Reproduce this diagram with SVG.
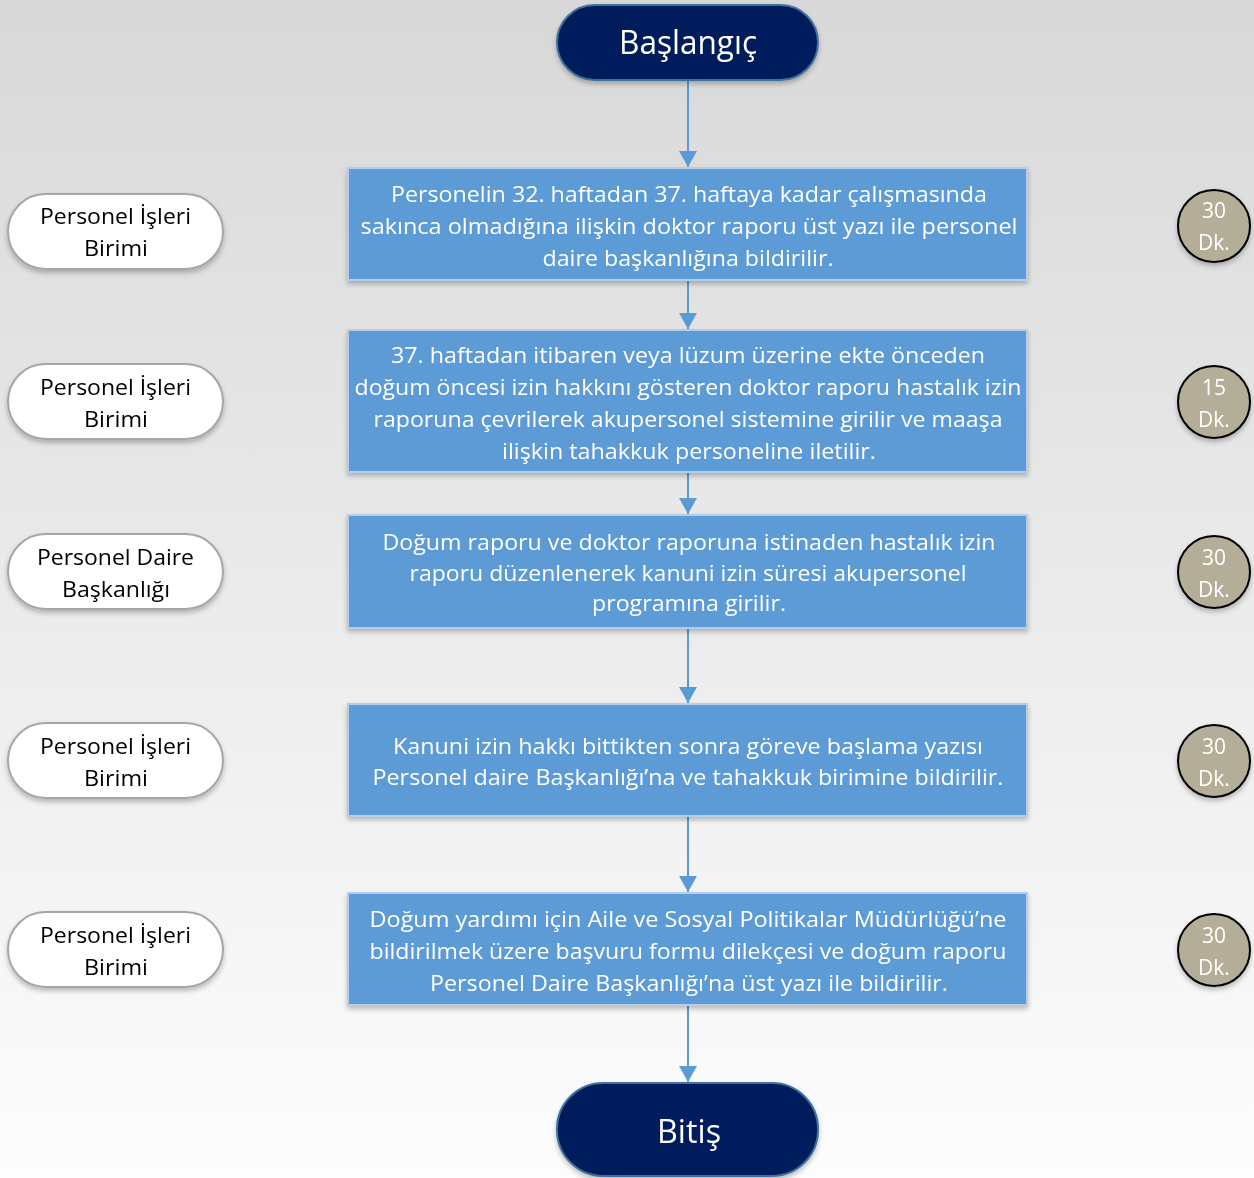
<svg xmlns="http://www.w3.org/2000/svg" width="1254" height="1178" viewBox="0 0 1254 1178">
<defs>
<linearGradient id="bg" x1="0" y1="0" x2="0" y2="1">
<stop offset="0" stop-color="#d8d8d8"/>
<stop offset="1" stop-color="#fdfdfd"/>
</linearGradient>
<filter id="sh" x="-10%" y="-10%" width="120%" height="130%">
<feDropShadow dx="0" dy="3" stdDeviation="2.5" flood-color="#000" flood-opacity="0.25"/>
</filter>
<marker id="ah" markerWidth="16" markerHeight="18" viewBox="0 0 16 18" refX="16" refY="9" orient="auto" markerUnits="userSpaceOnUse">
<path d="M0 0 L16 9 L0 18 Z" fill="#5b9bd5"/>
</marker>
<style>
.term{fill:#001f5c;stroke:#41719c;stroke-width:2}
.tt{fill:#fff;font-family:"Open Sans","Liberation Sans",sans-serif;font-size:32px;text-anchor:middle}
.box{fill:#5b9bd5;stroke:#b4cde8;stroke-width:2}
.bt{fill:#fff;font-family:"Open Sans","Liberation Sans",sans-serif;font-size:21px;text-anchor:middle}
.who{fill:#fff;stroke:#a6a6a6;stroke-width:2}
.wt{fill:#000;font-family:"Open Sans","Liberation Sans",sans-serif;font-size:21px;text-anchor:middle}
.tm{fill:#b4ae98;stroke:#000;stroke-width:2}
.ct{fill:#fff;font-family:"Open Sans","Liberation Sans",sans-serif;font-size:21px;text-anchor:middle}
.cn{stroke:#5b9bd5;stroke-width:2;fill:none;marker-end:url(#ah)}
</style>
</defs>
<rect width="1254" height="1178" fill="url(#bg)"/>

<g id="connectors">
<line class="cn" x1="688" y1="81" x2="688" y2="167"/>
<line class="cn" x1="688" y1="281" x2="688" y2="329"/>
<line class="cn" x1="688" y1="473" x2="688" y2="514"/>
<line class="cn" x1="688" y1="629" x2="688" y2="703"/>
<line class="cn" x1="688" y1="817" x2="688" y2="892"/>
<line class="cn" x1="688" y1="1006" x2="688" y2="1082"/>
</g>

<g id="start" filter="url(#sh)">
<rect class="term" x="557" y="5" width="261" height="75" rx="37.5"/>
<text class="tt" x="688" y="54" textLength="138" lengthAdjust="spacingAndGlyphs">Başlangıç</text>
</g>

<g id="step1" filter="url(#sh)">
<rect class="box" x="348" y="168" width="679" height="112"/>
<text class="bt" x="689" y="202" textLength="596" lengthAdjust="spacingAndGlyphs">Personelin 32. haftadan 37. haftaya kadar çalışmasında</text>
<text class="bt" x="689" y="234" textLength="657" lengthAdjust="spacingAndGlyphs">sakınca olmadığına ilişkin doktor raporu  üst yazı ile personel</text>
<text class="bt" x="688" y="266" textLength="291" lengthAdjust="spacingAndGlyphs">daire başkanlığına bildirilir.</text>
</g>

<g id="step2" filter="url(#sh)">
<rect class="box" x="348" y="330" width="679" height="142"/>
<text class="bt" x="688" y="363" textLength="594" lengthAdjust="spacingAndGlyphs">37. haftadan itibaren veya lüzum üzerine ekte önceden</text>
<text class="bt" x="688" y="395" textLength="667" lengthAdjust="spacingAndGlyphs">doğum öncesi izin hakkını gösteren doktor raporu hastalık izin</text>
<text class="bt" x="688" y="427" textLength="629" lengthAdjust="spacingAndGlyphs">raporuna çevrilerek akupersonel sistemine girilir ve maaşa</text>
<text class="bt" x="689" y="459" textLength="374" lengthAdjust="spacingAndGlyphs">ilişkin tahakkuk personeline iletilir.</text>
</g>

<g id="step3" filter="url(#sh)">
<rect class="box" x="348" y="515" width="679" height="113"/>
<text class="bt" x="689" y="550" textLength="613" lengthAdjust="spacingAndGlyphs">Doğum raporu ve doktor raporuna istinaden hastalık izin</text>
<text class="bt" x="688" y="581" textLength="557" lengthAdjust="spacingAndGlyphs">raporu düzenlenerek kanuni izin süresi akupersonel</text>
<text class="bt" x="689" y="611" textLength="194" lengthAdjust="spacingAndGlyphs">programına girilir.</text>
</g>

<g id="step4" filter="url(#sh)">
<rect class="box" x="348" y="704" width="679" height="112"/>
<text class="bt" x="688" y="754" textLength="590" lengthAdjust="spacingAndGlyphs">Kanuni izin hakkı  bittikten sonra göreve başlama yazısı</text>
<text class="bt" x="688" y="785" textLength="631" lengthAdjust="spacingAndGlyphs">Personel daire Başkanlığı’na ve tahakkuk birimine bildirilir.</text>
</g>

<g id="step5" filter="url(#sh)">
<rect class="box" x="348" y="893" width="679" height="112"/>
<text class="bt" x="688" y="927" textLength="637" lengthAdjust="spacingAndGlyphs">Doğum yardımı için Aile ve Sosyal Politikalar Müdürlüğü’ne</text>
<text class="bt" x="688" y="959" textLength="637" lengthAdjust="spacingAndGlyphs">bildirilmek üzere başvuru formu dilekçesi ve doğum raporu</text>
<text class="bt" x="689" y="991" textLength="518" lengthAdjust="spacingAndGlyphs">Personel Daire Başkanlığı’na üst yazı ile bildirilir.</text>
</g>

<g id="end" filter="url(#sh)">
<rect class="term" x="557" y="1083" width="261" height="93" rx="46"/>
<text class="tt" x="689" y="1143" textLength="64" lengthAdjust="spacingAndGlyphs">Bitiş</text>
</g>

<g id="who1" filter="url(#sh)">
<rect class="who" x="8" y="194" width="215" height="75" rx="37.5"/>
<text class="wt" x="115.5" y="224" textLength="151" lengthAdjust="spacingAndGlyphs">Personel İşleri</text>
<text class="wt" x="116" y="256" textLength="64" lengthAdjust="spacingAndGlyphs">Birimi</text>
</g>
<g id="who2" filter="url(#sh)">
<rect class="who" x="8" y="364" width="215" height="75" rx="37.5"/>
<text class="wt" x="115.5" y="395" textLength="151" lengthAdjust="spacingAndGlyphs">Personel İşleri</text>
<text class="wt" x="116" y="427" textLength="64" lengthAdjust="spacingAndGlyphs">Birimi</text>
</g>
<g id="who3" filter="url(#sh)">
<rect class="who" x="8" y="534" width="215" height="75" rx="37.5"/>
<text class="wt" x="115.5" y="565" textLength="157" lengthAdjust="spacingAndGlyphs">Personel Daire</text>
<text class="wt" x="116" y="597" textLength="108" lengthAdjust="spacingAndGlyphs">Başkanlığı</text>
</g>
<g id="who4" filter="url(#sh)">
<rect class="who" x="8" y="723" width="215" height="75" rx="37.5"/>
<text class="wt" x="115.5" y="754" textLength="151" lengthAdjust="spacingAndGlyphs">Personel İşleri</text>
<text class="wt" x="116" y="786" textLength="64" lengthAdjust="spacingAndGlyphs">Birimi</text>
</g>
<g id="who5" filter="url(#sh)">
<rect class="who" x="8" y="912" width="215" height="75" rx="37.5"/>
<text class="wt" x="115.5" y="943" textLength="151" lengthAdjust="spacingAndGlyphs">Personel İşleri</text>
<text class="wt" x="116" y="975" textLength="64" lengthAdjust="spacingAndGlyphs">Birimi</text>
</g>

<g id="time1" filter="url(#sh)">
<circle class="tm" cx="1214" cy="226" r="36"/>
<text class="ct" x="1214" y="218">30</text>
<text class="ct" x="1214" y="250">Dk.</text>
</g>
<g id="time2" filter="url(#sh)">
<circle class="tm" cx="1214" cy="402" r="36"/>
<text class="ct" x="1214" y="395">15</text>
<text class="ct" x="1214" y="427">Dk.</text>
</g>
<g id="time3" filter="url(#sh)">
<circle class="tm" cx="1214" cy="572" r="36"/>
<text class="ct" x="1214" y="565">30</text>
<text class="ct" x="1214" y="597">Dk.</text>
</g>
<g id="time4" filter="url(#sh)">
<circle class="tm" cx="1214" cy="761" r="36"/>
<text class="ct" x="1214" y="754">30</text>
<text class="ct" x="1214" y="786">Dk.</text>
</g>
<g id="time5" filter="url(#sh)">
<circle class="tm" cx="1214" cy="950" r="36"/>
<text class="ct" x="1214" y="943">30</text>
<text class="ct" x="1214" y="975">Dk.</text>
</g>
</svg>
